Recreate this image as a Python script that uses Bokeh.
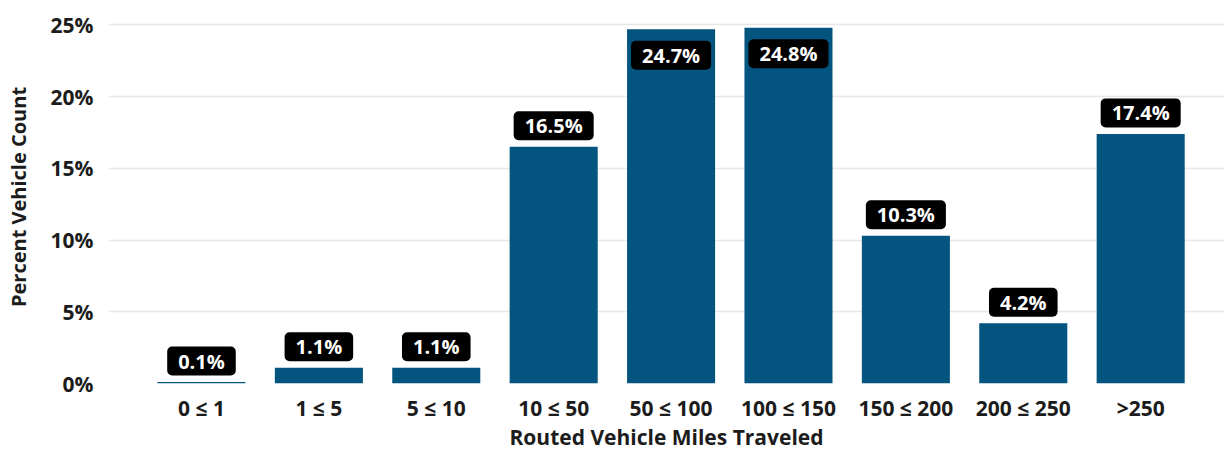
from bokeh.plotting import figure
from bokeh.models import Range1d, FixedTicker, ColumnDataSource
from bokeh.core.properties import value
from bokeh.embed import file_html
from bokeh.resources import INLINE

categories = ["0 ≤ 1", "1 ≤ 5", "5 ≤ 10", "10 ≤ 50", "50 ≤ 100",
              "100 ≤ 150", "150 ≤ 200", "200 ≤ 250", ">250"]
percents = [0.1, 1.1, 1.1, 16.5, 24.7, 24.8, 10.3, 4.2, 17.4]
y_ticks = [0, 5, 10, 15, 20, 25]

FONT = value("Open Sans")
BAR = "#03557f"
TXT = "#1c1c1c"

xs = list(range(len(categories)))
labels = [f"{v:.1f}%" for v in percents]
offsets = [26 if v > 23 else -21 for v in percents]

src = ColumnDataSource(dict(x=xs, top=percents, label=labels, off=offsets))

p = figure(frame_width=1116, frame_height=373,
           x_range=Range1d(-0.792, 8.714), y_range=Range1d(0, 26.0),
           output_backend="svg", toolbar_location=None,
           min_border_left=108, min_border_right=0,
           min_border_top=10, min_border_bottom=0)

p.vbar(x="x", top="top", bottom=0, width=0.75, source=src,
       fill_color=BAR, line_color=None)

p.text(x="x", y="top", text="label", source=src, y_offset="off",
       text_align="center", text_baseline="middle",
       text_color="white", text_font=FONT, text_font_style="bold",
       text_font_size="20px",
       background_fill_color="black", border_radius=5, padding=(11, 1))

p.xaxis.ticker = FixedTicker(ticks=xs)
p.xaxis.major_label_overrides = {i: c for i, c in enumerate(categories)}
p.yaxis.ticker = FixedTicker(ticks=y_ticks)
p.yaxis.major_label_overrides = {t: f"{t}%" for t in y_ticks}

for ax in (p.xaxis[0], p.yaxis[0]):
    ax.axis_line_color = None
    ax.major_tick_line_color = None
    ax.minor_tick_line_color = None
    ax.major_tick_out = 0
    ax.major_tick_in = 0
    ax.minor_tick_out = 0
    ax.minor_tick_in = 0
    ax.major_label_text_font = "Open Sans"
    ax.major_label_text_font_style = "bold"
    ax.major_label_text_font_size = "21px"
    ax.major_label_text_color = TXT
    ax.axis_label_text_font = "Open Sans"
    ax.axis_label_text_font_style = "bold"
    ax.axis_label_text_color = TXT

p.xaxis.axis_label = "Routed Vehicle Miles Traveled"
p.yaxis.axis_label = "Percent Vehicle Count"
p.xaxis.axis_label_text_font_size = "21px"
p.yaxis.axis_label_text_font_size = "20px"
p.xaxis.major_label_standoff = 10
p.xaxis.axis_label_standoff = -2
p.yaxis.major_label_standoff = 15
p.yaxis.axis_label_standoff = 16

p.xgrid.grid_line_color = None
p.ygrid.grid_line_color = "#e8e8e8"
p.ygrid.grid_line_width = 1.5
p.outline_line_color = None
p.background_fill_color = "white"
p.border_fill_color = "white"

open("out.html", "w").write(file_html(p, INLINE))
